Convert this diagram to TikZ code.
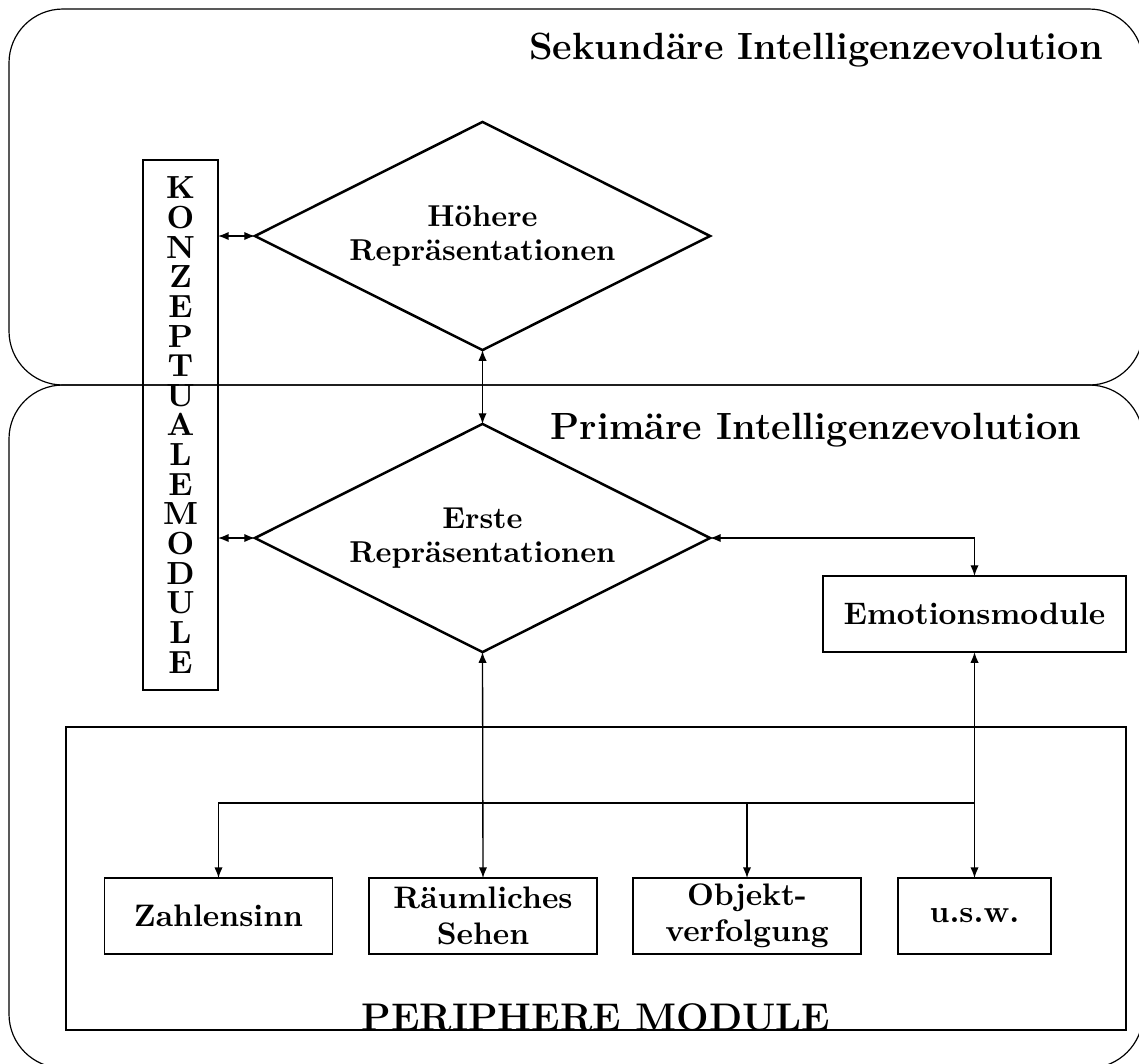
\documentclass[tikz,border=0pt]{standalone}
\usetikzlibrary{shapes.geometric,arrows.meta}
\begin{document}
\begin{tikzpicture}[x=0.3375pt,y=-0.3375pt,
  every node/.style={font=\bfseries\fontsize{10.5}{12}\selectfont, outer sep=0pt},
  region/.style={draw, line width=0.4pt, rounded corners=18.2pt},
  box/.style={draw, line width=0.5pt, align=center, inner sep=0pt},
  dia/.style={draw, shape=diamond, aspect=2, line width=0.85pt, inner sep=0pt,
    minimum width=153.6pt, minimum height=77pt, align=center,
    font=\bfseries\fontsize{10.2}{11.5}\selectfont},
  conn/.style={line width=0.45pt, {Latex[length=3.6pt,width=2.8pt]}-{Latex[length=3.6pt,width=2.8pt]}},
  oneway/.style={line width=0.45pt, -{Latex[length=3.6pt,width=2.8pt]}},
  title/.style={font=\bfseries\fontsize{12.8}{15}\selectfont, anchor=base}
]
\useasboundingbox (0,0) rectangle (1139,1063);
\draw[region] (9,9) rectangle (1143,385);
\draw[region] (9,385) rectangle (1143,1068);
\node[title] (sek) at (816,59) {Sekundäre Intelligenzevolution};
\node[title] (prim) at (816,439) {Primäre Intelligenzevolution};
\node[box, minimum width=25.3pt, minimum height=179pt,
  font=\bfseries\fontsize{10.8}{10}\selectfont] (konz) at (180.5,425)
  {K\\O\\N\\Z\\E\\P\\T\\U\\A\\L\\E\\M\\O\\D\\U\\L\\E};
\node[dia] (hoe) at (482.5,236) {Höhere\\Repräsentationen};
\node[dia] (erst) at (482.5,538) {Erste\\Repräsentationen};
\node[box, minimum width=102.3pt, minimum height=25.7pt] (emo) at (974.5,614) {Emotionsmodule};
\node[draw, line width=0.5pt, inner sep=0pt, minimum width=357.75pt, minimum height=102.3pt] (peri) at (596,878.5) {};
\node[font=\bfseries\fontsize{13}{16}\selectfont, anchor=base] (perilab) at (peri.south) {PERIPHERE MODULE};
\node[box, minimum width=77pt, minimum height=25.65pt] (zahl) at (218.5,916) {Zahlensinn};
\node[box, minimum width=77pt, minimum height=25.65pt] (raum) at (483,916) {Räumliches\\Sehen};
\node[box, minimum width=77pt, minimum height=25.65pt] (obj) at (747,916) {Objekt-\\verfolgung};
\node[box, minimum width=51.6pt, minimum height=25.65pt] (usw) at (974.5,916) {u.s.w.};
\draw[conn] (konz.east |- hoe.west) -- (hoe.west);
\draw[conn] (konz.east |- erst.west) -- (erst.west);
\draw[conn] (hoe.south) -- (erst.north);
\draw[conn] (erst.east) -| (emo.north);
\draw[conn] (emo.south) -- (usw.north);
\draw[conn] (erst.south) -- (raum.north);
\coordinate (bus) at (974.5,803);
\draw[oneway] (bus) -| (zahl.north);
\draw[oneway] (obj.north |- bus) -- (obj.north);
\end{tikzpicture}
\end{document}
